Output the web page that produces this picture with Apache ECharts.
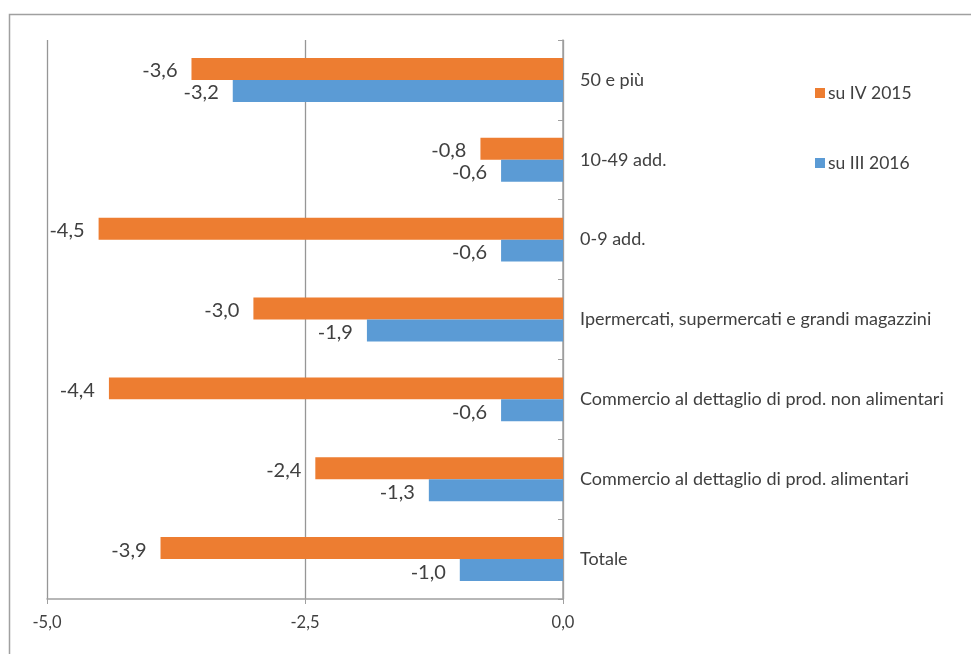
<!DOCTYPE html>
<html>
<head>
<meta charset="utf-8">
<script src="https://cdn.jsdelivr.net/npm/echarts@6/dist/echarts.min.js"></script>
<style>
  html, body { margin: 0; padding: 0; background: #fff; }
  #chart { width: 971px; height: 654px; }
</style>
</head>
<body>
<div id="chart"></div>
<script>
// Categories, listed top to bottom
const categories = [
  '50 e più',
  '10-49 add.',
  '0-9 add.',
  'Ipermercati, supermercati e grandi magazzini',
  'Commercio al dettaglio di prod. non alimentari',
  'Commercio al dettaglio di prod. alimentari',
  'Totale'
];
const seriesNames = ['su IV 2015', 'su III 2016'];
const suIV2015 = [-3.6, -0.8, -4.5, -3.0, -4.4, -2.4, -3.9];
const suIII2016 = [-3.2, -0.6, -0.6, -1.9, -0.6, -1.3, -1.0];
const xTicks = [-5, -2.5, 0];

const FONT = 'Lato, "Open Sans", sans-serif';
const TEXT = '#404040';
const fmt = v => v.toFixed(1).replace('.', ',');

const chart = echarts.init(document.getElementById('chart'));

const labelCfg = {
  show: true,
  position: 'left',
  distance: 14,
  offset: [0, 2],
  fontFamily: FONT,
  fontSize: 20,
  color: TEXT,
  formatter: p => fmt(p.value)
};

chart.setOption({
  animation: false,
  backgroundColor: '#fff',
  graphic: [{
    type: 'rect',
    shape: { x: 9.5, y: 14.5, width: 1100, height: 1100 },
    style: { fill: 'none', stroke: '#a0a0a0', lineWidth: 1.5 },
    silent: true
  }],
  legend: {
    orient: 'vertical',
    left: 810,
    top: 78,
    itemGap: 50,
    itemWidth: 10,
    itemHeight: 10,
    icon: 'rect',
    textStyle: {
      fontFamily: FONT, fontSize: 17.5, lineHeight: 20, color: TEXT,
      padding: [0, 0, 0, -2]
    },
    data: seriesNames
  },
  grid: { left: 47, right: 408, top: 40, bottom: 55, containLabel: false },
  xAxis: {
    type: 'value',
    min: xTicks[0],
    max: xTicks[xTicks.length - 1],
    interval: 2.5,
    axisLine: { show: true, lineStyle: { color: '#a0a0a0', width: 1.5 } },
    axisTick: { show: true, length: 5, lineStyle: { color: '#a0a0a0' } },
    axisLabel: {
      margin: 15,
      fontFamily: FONT,
      fontSize: 16.5,
      color: TEXT,
      formatter: v => fmt(v)
    },
    splitLine: { show: true, lineStyle: { color: '#969696', width: 1.3 } }
  },
  yAxis: {
    type: 'category',
    position: 'right',
    inverse: true,
    data: categories,
    axisLine: { show: true, onZero: false, lineStyle: { color: '#a0a0a0', width: 1.5 } },
    axisTick: { show: true, inside: true, length: 5, lineStyle: { color: '#a0a0a0' } },
    axisLabel: {
      margin: 17,
      fontFamily: FONT,
      fontSize: 18,
      color: TEXT
    },
    splitLine: { show: false }
  },
  series: [
    {
      name: seriesNames[0],
      type: 'bar',
      data: suIV2015,
      itemStyle: { color: '#ED7D31' },
      barGap: '0%',
      barCategoryGap: '45%',
      label: labelCfg
    },
    {
      name: seriesNames[1],
      type: 'bar',
      data: suIII2016,
      itemStyle: { color: '#5B9BD5' },
      barGap: '0%',
      barCategoryGap: '45%',
      label: labelCfg
    }
  ]
});
</script>
</body>
</html>
